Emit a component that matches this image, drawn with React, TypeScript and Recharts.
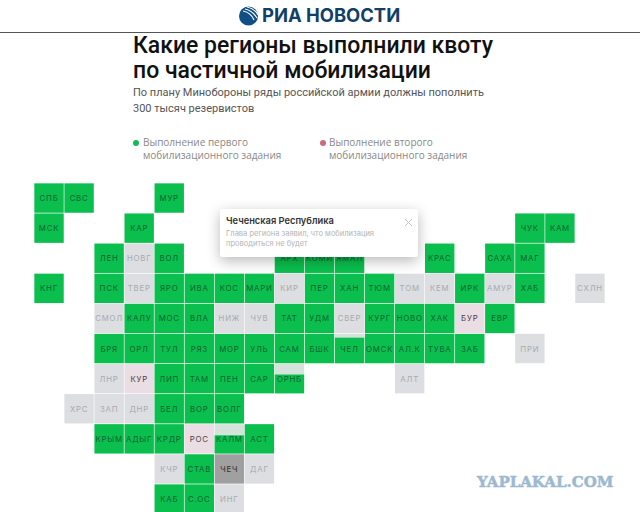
import React from "react";
import { ScatterChart, Scatter, XAxis, YAxis } from "recharts";

// tile map: every row lists region codes and the column each one sits in
const rowNames = [
  ["СПБ", "СВС", "МУР"],
  ["МСК", "КАР", "ЧУК", "КАМ"],
  ["ЛЕН", "НОВГ", "ВОЛ", "АРХ", "КОМИ", "ЯМАЛ", "КРАС", "САХА", "МАГ"],
  ["КНГ", "ПСК", "ТВЕР", "ЯРО", "ИВА", "КОС", "МАРИ", "КИР", "ПЕР", "ХАН", "ТЮМ", "ТОМ", "КЕМ", "ИРК", "АМУР", "ХАБ", "СХЛН"],
  ["СМОЛ", "КАЛУ", "МОС", "ВЛА", "НИЖ", "ЧУВ", "ТАТ", "УДМ", "СВЕР", "КУРГ", "НОВО", "ХАК", "БУР", "ЕВР"],
  ["БРЯ", "ОРЛ", "ТУЛ", "РЯЗ", "МОР", "УЛЬ", "САМ", "БШК", "ЧЕЛ", "ОМСК", "АЛ.К", "ТУВА", "ЗАБ", "ПРИ"],
  ["ЛНР", "КУР", "ЛИП", "ТАМ", "ПЕН", "САР", "ОРНБ", "АЛТ"],
  ["ХРС", "ЗАП", "ДНР", "БЕЛ", "ВОР", "ВОЛГ"],
  ["КРЫМ", "АДЫГ", "КРДР", "РОС", "КАЛМ", "АСТ"],
  ["КЧР", "СТАВ", "ЧЕЧ", "ДАГ"],
  ["КАБ", "С.ОС", "ИНГ"],
];
const rowCols = [
  [0, 1, 4],
  [0, 3, 16, 17],
  [2, 3, 4, 8, 9, 10, 13, 15, 16],
  [0, 2, 3, 4, 5, 6, 7, 8, 9, 10, 11, 12, 13, 14, 15, 16, 18],
  [2, 3, 4, 5, 6, 7, 8, 9, 10, 11, 12, 13, 14, 15],
  [2, 3, 4, 5, 6, 7, 8, 9, 10, 11, 12, 13, 14, 16],
  [2, 3, 4, 5, 6, 7, 8, 12],
  [1, 2, 3, 4, 5, 6],
  [2, 3, 4, 5, 6, 7],
  [4, 5, 6, 7],
  [4, 5, 6],
];

const greyRegions = ["НОВГ", "ТВЕР", "КИР", "ТОМ", "КЕМ", "АМУР", "СХЛН", "СМОЛ", "НИЖ", "ЧУВ", "СВЕР", "ПРИ", "ЛНР", "АЛТ", "ХРС", "ЗАП", "ДНР", "КЧР", "ДАГ", "ИНГ"];
const pinkRegions = ["КУР", "БУР", "РОС"];
const darkRegions = ["ЧЕЧ"];

// tiles only partly filled with green
const partialRegions = ["ЧЕЛ", "ОРНБ", "КАЛМ"];
const partialShare = [0.87, 0.64, 0.62];

const GREEN = "#0abf4d";
const TILE = 29.4;

const tiles = rowNames.flatMap((names, row) =>
  names.map((name, i) => {
    const p = partialRegions.indexOf(name);
    return { name, row, col: rowCols[row][i], share: p >= 0 ? partialShare[p] : 1 };
  })
);
const pick = (list: string[]) => tiles.filter((t) => list.includes(t.name));
const others = [...greyRegions, ...pinkRegions, ...darkRegions];
const greenTiles = tiles.filter((t) => !others.includes(t.name));

const Tile = (bg: string, color: string) => (props: any) => {
  const { cx, cy, payload } = props;
  const x = cx - TILE / 2;
  const y = cy - TILE / 2;
  const h = TILE * payload.share;
  return (
    <g>
      <rect x={x} y={y} width={TILE} height={TILE} fill={payload.share < 1 ? "#d5e3da" : bg} />
      {payload.share < 1 && <rect x={x} y={y + TILE - h} width={TILE} height={h} fill={bg} />}
      <text
        x={cx}
        y={cy + 3}
        textAnchor="middle"
        fontFamily="Inter, 'Noto Sans', sans-serif"
        fontSize={7.8}
        fontWeight={400}
        letterSpacing={0.8}
        fill={color}
      >
        {payload.name}
      </text>
    </g>
  );
};

const abs = (left: number, top: number, style: React.CSSProperties = {}): React.CSSProperties => ({
  position: "absolute",
  left,
  top,
  whiteSpace: "nowrap",
  ...style,
});

export default function App() {
  return (
    <div
      style={{
        position: "absolute",
        left: 0,
        top: 0,
        width: 640,
        height: 512,
        overflow: "hidden",
        background: "#fff",
        fontFamily: "Roboto, sans-serif",
      }}
    >
      {/* шапка */}
      <svg style={abs(238, 6)} width={22} height={20} viewBox="0 0 22 20">
        <circle cx="10.5" cy="10" r="9.5" fill="#104f86" />
        <path d="M9 1 C14 2 18 5 20 9" stroke="#fff" strokeWidth="1.2" fill="none" />
        <path d="M7 3 C12 4 16 7 19 12" stroke="#fff" strokeWidth="1.2" fill="none" />
        <path d="M5 5 C10 6 14 9 16 14" stroke="#fff" strokeWidth="1.2" fill="none" />
      </svg>
      <div style={abs(262, 4, { fontFamily: "Inter, sans-serif", fontWeight: 700, fontSize: 18.4, lineHeight: "22px", color: "#123f66" })}>
        РИА НОВОСТИ
      </div>
      <div style={abs(0, 32, { width: 640, height: 1, background: "#555" })} />

      <div style={abs(133, 33, { fontWeight: 500, fontSize: 23, lineHeight: "25px", color: "#111" })}>
        Какие регионы выполнили квоту
        <br />
        по частичной мобилизации
      </div>
      <div style={abs(133, 85, { fontFamily: "Roboto, sans-serif", fontSize: 11, lineHeight: "15.5px", color: "#555" })}>
        По плану Минобороны ряды российской армии должны пополнить
        <br />
        300 тысяч резервистов
      </div>

      {/* легенда */}
      <div style={abs(133, 139.5, { width: 6, height: 6, borderRadius: 3, background: "#12b955" })} />
      <div style={abs(143, 136, { fontFamily: "'Open Sans', sans-serif", fontSize: 10, lineHeight: "13px", color: "#888" })}>
        Выполнение первого
        <br />
        мобилизационного задания
      </div>
      <div style={abs(320, 139.5, { width: 6, height: 6, borderRadius: 3, background: "#cf6a7c" })} />
      <div style={abs(329, 136, { fontFamily: "'Open Sans', sans-serif", fontSize: 10, lineHeight: "13px", color: "#888" })}>
        Выполнение второго
        <br />
        мобилизационного задания
      </div>

      <div style={abs(0, 0)}>
        <ScatterChart width={640} height={512} margin={{ top: 183, right: 35, bottom: 0, left: 34 }}>
          <XAxis type="number" dataKey="col" domain={[-0.5, 18.5]} hide />
          <YAxis type="number" dataKey="row" domain={[-0.5, 10.43]} reversed hide />
          <Scatter data={greenTiles} isAnimationActive={false} shape={Tile(GREEN, "#0c6231")} />
          <Scatter data={pick(greyRegions)} isAnimationActive={false} shape={Tile("#dcdee1", "#a8abb0")} />
          <Scatter data={pick(pinkRegions)} isAnimationActive={false} shape={Tile("#eadde4", "#4b3f46")} />
          <Scatter data={pick(darkRegions)} isAnimationActive={false} shape={Tile("#a0a0a0", "#333")} />
        </ScatterChart>
      </div>

      {/* карточка региона */}
      <div
        style={abs(220, 209, {
          width: 198,
          height: 48,
          background: "#fff",
          borderRadius: 2,
          boxShadow: "0 4px 14px rgba(0,0,0,0.28)",
        })}
      >
        <div style={abs(6, 6, { fontFamily: "Inter, sans-serif", fontWeight: 600, fontSize: 9.3, color: "#333" })}>
          Чеченская Республика
        </div>
        <div style={abs(6, 20, { fontFamily: "Inter, sans-serif", fontSize: 7.5, lineHeight: "10px", color: "#b5b5b5" })}>
          Глава региона заявил, что мобилизация
          <br />
          проводиться не будет
        </div>
        <svg style={abs(184, 9)} width={9} height={9}>
          <path d="M1 1 L8 8 M8 1 L1 8" stroke="#c4c4c4" strokeWidth="1" />
        </svg>
      </div>

      <div
        style={abs(477, 472, {
          fontFamily: "'DejaVu Serif', serif",
          fontWeight: 700,
          fontSize: 15,
          lineHeight: "20px",
          color: "#9db9d0",
          WebkitTextStroke: "0.5px #9db9d0",
        })}
      >
        YAPLAKAL.COM
      </div>
    </div>
  );
}
